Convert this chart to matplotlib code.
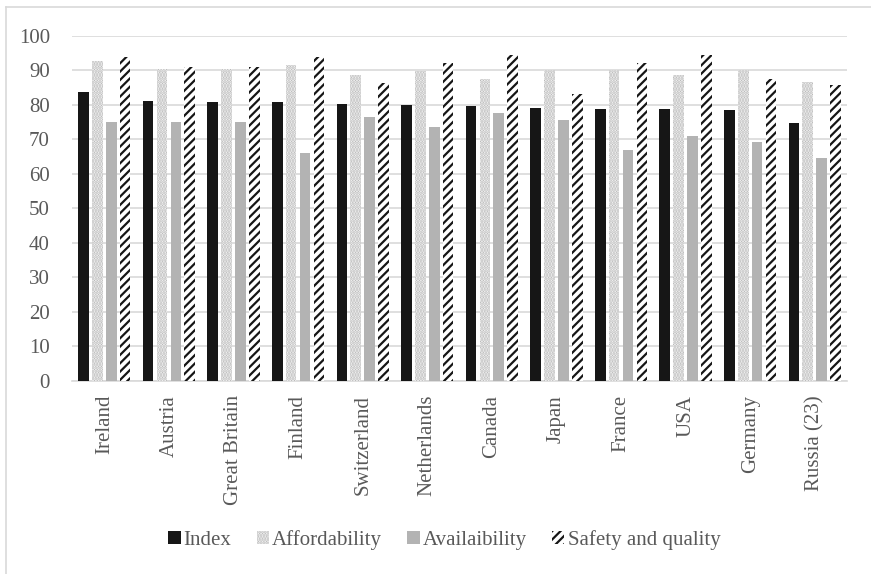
import numpy as np
import matplotlib as mpl
mpl.use('Agg')
from matplotlib import pyplot as plt
from matplotlib.lines import Line2D

countries = ['Ireland', 'Austria', 'Great Britain', 'Finland', 'Switzerland',
             'Netherlands', 'Canada', 'Japan', 'France', 'USA', 'Germany',
             'Russia (23)']
index = [83.8, 81.2, 80.9, 80.8, 80.2, 79.8, 79.7, 79.1, 78.9, 78.9, 78.6, 74.7]
affordability = [92.7, 90.5, 90.5, 91.5, 88.7, 89.7, 87.4, 90.0, 90.0, 88.7, 90.0, 86.6]
availability = [74.9, 74.9, 74.9, 65.9, 76.6, 73.6, 77.5, 75.6, 66.8, 70.9, 69.2, 64.7]
safety = [93.9, 91.0, 91.0, 93.7, 86.2, 92.0, 94.3, 83.2, 92.0, 94.3, 87.5, 85.8]

plt.rcParams['font.family'] = ['Liberation Serif', 'DejaVu Serif']
plt.rcParams['hatch.linewidth'] = 1.6

TEXT = '#595959'
GRID = '#d9d9d9'

fig = plt.figure(figsize=(8.71, 5.74), dpi=100)
ax = fig.add_axes([0.0827, 0.3362, 0.8898, 0.6016])

x = np.arange(len(countries))
w = 0.165
step = 0.215

ax.bar(x - 1.5 * step, index, w, color='#161616', zorder=3)
ax.bar(x - 0.5 * step, affordability, w, color='white', edgecolor='#b8b8b8',
       hatch='......', linewidth=0, zorder=3)
ax.bar(x + 0.5 * step, availability, w, color='#b3b3b3', zorder=3)
ax.bar(x + 1.5 * step, safety, w, color='white', edgecolor='#161616',
       hatch='////', linewidth=0, zorder=3)

ax.set_xlim(-0.5, len(countries) - 0.5)
ax.set_ylim(0, 100)
ax.set_yticks(range(0, 101, 10))
ax.yaxis.grid(True, color=GRID, linewidth=1.2, zorder=0)
ax.set_xticks(x)
ax.set_xticklabels(countries, rotation=90)
ax.tick_params(axis='both', length=0, labelsize=15, colors=TEXT)
ax.tick_params(axis='x', pad=10)
ax.tick_params(axis='y', pad=16)
for side in ['top', 'right', 'left']:
    ax.spines[side].set_visible(False)
ax.spines['bottom'].set_color(GRID)
ax.spines['bottom'].set_linewidth(1.2)

handles = [
    mpl.patches.Patch(facecolor='#161616', linewidth=0),
    mpl.patches.Patch(facecolor='white', edgecolor='#b8b8b8', hatch='......', linewidth=0),
    mpl.patches.Patch(facecolor='#b3b3b3', linewidth=0),
    mpl.patches.Patch(facecolor='white', edgecolor='#161616', hatch='////', linewidth=0),
]
labels = ['Index', 'Affordability', 'Availaibility', 'Safety and quality']
leg = fig.legend(handles, labels, loc='center', bbox_to_anchor=(0.51, 0.059),
                 ncol=4, frameon=False, fontsize=15, handlelength=0.6,
                 handleheight=0.6, handletextpad=0.15, columnspacing=1.2)
for t in leg.get_texts():
    t.set_color(TEXT)

# outer chart border
fig.add_artist(Line2D([6 / 871, 6 / 871], [0, 1 - 7 / 574], transform=fig.transFigure,
                      color=GRID, linewidth=1.2))
fig.add_artist(Line2D([6 / 871, 1], [1 - 7 / 574, 1 - 7 / 574], transform=fig.transFigure,
                      color=GRID, linewidth=1.2))

fig.savefig('out.png', dpi=100)
